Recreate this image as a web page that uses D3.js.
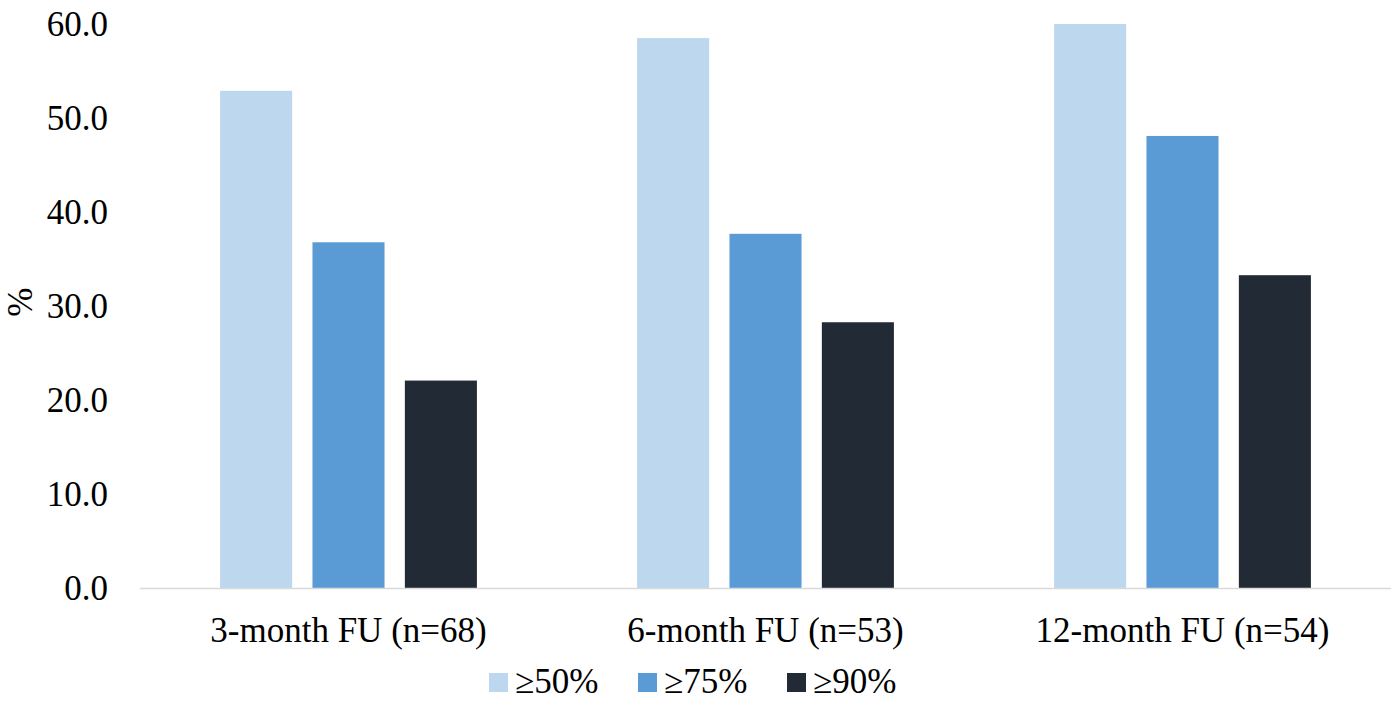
<!DOCTYPE html>
<html lang="en">
<head>
  <meta charset="UTF-8" />
  <title>Response rates by follow-up</title>
  <script src="https://d3js.org/d3.v7.min.js"></script>
  <style>
    html, body { margin: 0; padding: 0; background: #fff; }
    svg text { font-family: "Liberation Serif", "Times New Roman", serif; fill: #000; }
    .axis-line { stroke: #d9d9d9; stroke-width: 1.5px; }
  </style>
</head>
<body>
  <svg id="chart" width="1399" height="703"></svg>
  <script>
    // data
    const categories = ['3-month FU (n=68)', '6-month FU (n=53)', '12-month FU (n=54)'];
    const seriesNames = ['≥50%', '≥75%', '≥90%'];
    const seriesColors = ['#bdd7ee', '#5b9bd5', '#222a35'];
    const values = [
      [52.9, 36.8, 22.1],   // 3-month
      [58.5, 37.7, 28.3],   // 6-month
      [60.0, 48.1, 33.3]    // 12-month
    ];
    const yTicks = [0, 10, 20, 30, 40, 50, 60];

    const svg = d3.select('#chart');
    const plotLeft = 140, plotRight = 1391, plotTop = 24, plotBottom = 588.5;

    const x0 = d3.scaleBand().domain(categories).range([plotLeft, plotRight]).padding(0);
    const x1 = d3.scaleBand().domain(seriesNames).range([0, x0.bandwidth()])
      .paddingInner(0.22).paddingOuter(0.867);
    const y = d3.scaleLinear().domain([0, 60]).range([plotBottom, plotTop]);
    const color = d3.scaleOrdinal().domain(seriesNames).range(seriesColors);

    // bars
    const groups = svg.append('g').selectAll('g').data(categories).join('g')
      .attr('transform', d => `translate(${x0(d)},0)`);
    groups.selectAll('rect')
      .data((d, i) => seriesNames.map((s, j) => ({ s, v: values[i][j] })))
      .join('rect')
      .attr('x', d => x1(d.s))
      .attr('width', x1.bandwidth())
      .attr('y', d => y(d.v))
      .attr('height', d => y(0) - y(d.v))
      .attr('fill', d => color(d.s));

    // x axis line
    svg.append('line').attr('class', 'axis-line')
      .attr('x1', plotLeft).attr('x2', plotRight).attr('y1', y(0)).attr('y2', y(0));

    // y axis (labels only)
    const yAxis = d3.axisLeft(y).tickValues(yTicks).tickFormat(d3.format('.1f')).tickSize(0).tickPadding(0);
    const yg = svg.append('g').attr('transform', 'translate(108,0)').call(yAxis);
    yg.select('.domain').remove();
    yg.selectAll('text').attr('font-size', 35).attr('font-family', '"Liberation Serif", serif').attr('fill', '#000');

    // x axis labels
    const xAxis = d3.axisBottom(x0).tickSize(0).tickPadding(0);
    const xg = svg.append('g').attr('transform', `translate(0,${y(0)})`).call(xAxis);
    xg.select('.domain').remove();
    xg.selectAll('text').attr('font-size', 35).attr('font-family', '"Liberation Serif", serif')
      .attr('fill', '#000').attr('dy', null).attr('y', 53);

    // y title
    svg.append('text').attr('transform', `translate(32,${(plotTop + plotBottom) / 2 - 4}) rotate(-90)`)
      .attr('text-anchor', 'middle').attr('font-size', 35).text('%');

    // legend
    const legend = svg.append('g').selectAll('g').data(seriesNames).join('g')
      .attr('transform', (d, i) => `translate(${489 + i * 149},673)`);
    legend.append('rect').attr('width', 19).attr('height', 19).attr('fill', d => color(d));
    legend.append('text').attr('x', 26).attr('y', 20).attr('font-size', 35).text(d => d);
  </script>
</body>
</html>
